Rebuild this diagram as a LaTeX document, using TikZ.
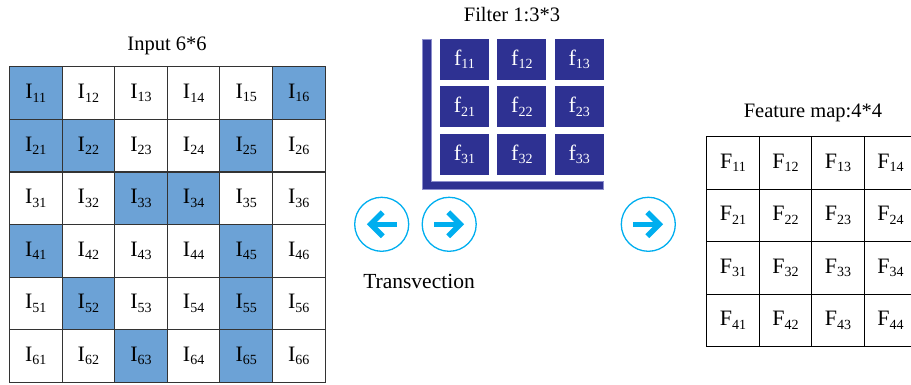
\documentclass[tikz,border=0pt]{standalone}
\usepackage{fontspec}
\setmainfont{Liberation Serif}
\usetikzlibrary{calc}
\definecolor{cellblue}{RGB}{108,162,214}
\definecolor{filt}{RGB}{46,49,146}
\definecolor{filtedge}{RGB}{140,142,205}
\definecolor{cyanar}{RGB}{0,174,239}
\newcommand\lab[2]{#1\raisebox{-3.5pt}{\fontsize{14}{14}\selectfont #2}}
\begin{document}
\begin{tikzpicture}[x=1pt,y=-1pt,
  incell/.style={draw=black!80, line width=1.1pt, minimum width=52.6pt, minimum height=52.6pt, inner sep=0pt, font=\fontsize{22}{22}\selectfont},
  fcell/.style={draw=black, line width=1.1pt, minimum width=52.5pt, minimum height=52.5pt, inner sep=0pt, font=\fontsize{22}{22}\selectfont},
  kcell/.style={fill=filt, text=white, minimum width=49pt, minimum height=41pt, inner sep=0pt, font=\fontsize{22}{22}\selectfont},
  title/.style={font=\fontsize{20.5}{20.5}\selectfont, inner sep=0pt},
  ring/.style={circle, draw=cyanar, line width=1.3pt, minimum size=54pt, inner sep=0pt},
  arrowline/.style={draw=cyanar, line width=5.5pt, line cap=butt, line join=miter}
]
\useasboundingbox (0,0) rectangle (911,385);

% Input 6x6
\node[title] (tin) at (167,46) {Input 6*6};
\foreach \r/\c in {1/1,1/6,2/1,2/2,2/5,3/3,3/4,4/1,4/5,5/2,5/5,6/3,6/5}{
  \fill[cellblue] ({9.5+52.6*(\c-1)},{66.8+52.6*(\r-1)}) rectangle ++(52.6,52.6);
}
\foreach \r in {1,...,6}{
  \foreach \c in {1,...,6}{
    \node[incell] (i\r\c) at ({9.5+52.6*(\c-0.5)},{66.8+52.6*(\r-0.5)}) {\lab{I}{\r\c}};
  }
}

% Filter
\node[title] (tfi) at (512,15) {Filter 1:3*3};
\filldraw[fill=filt, draw=filtedge, line width=0.6pt]
  (422.3,39.3) -- (431.7,39.3) -- (431.7,181.7) -- (603.7,181.7) -- (603.7,189.3) -- (422.3,189.3) -- cycle;
\foreach \r in {1,2,3}{
  \foreach \c in {1,2,3}{
    \node[kcell] (k\r\c) at ({464.5+57.4*(\c-1)},{59.5+47.5*(\r-1)}) {\lab{f}{\r\c}};
  }
}

% Arrows
\node[ring] (c1) at (381.7,224.3) {};
\node[ring] (c2) at (449.2,224.3) {};
\node[ring] (c3) at (648.3,224.3) {};
\draw[arrowline] ($(c1.center)+(-12,0)$) -- ($(c1.center)+(15,0)$);
\draw[arrowline] ($(c1.center)+(1,-12)$) -- ($(c1.center)+(-11,0)$) -- ($(c1.center)+(1,12)$);
\foreach \n in {c2,c3}{
  \draw[arrowline] ($(\n.center)+(12,0)$) -- ($(\n.center)+(-15,0)$);
  \draw[arrowline] ($(\n.center)+(-1,-12)$) -- ($(\n.center)+(11,0)$) -- ($(\n.center)+(-1,12)$);
}
\node[title, font=\fontsize{21.5}{21.5}\selectfont] (tr) at (419,281) {Transvection};

% Feature map
\node[title] (tfm) at (813,113) {Feature map:4*4};
\begin{scope}
\clip (0,0) rectangle (911,385);
\foreach \r in {1,...,4}{
  \foreach \c in {1,...,4}{
    \node[fcell] (m\r\c) at ({706.7+52.5*(\c-0.5)},{136.7+52.5*(\r-0.5)}) {\lab{F}{\r\c}};
  }
}
\end{scope}
\end{tikzpicture}
\end{document}
